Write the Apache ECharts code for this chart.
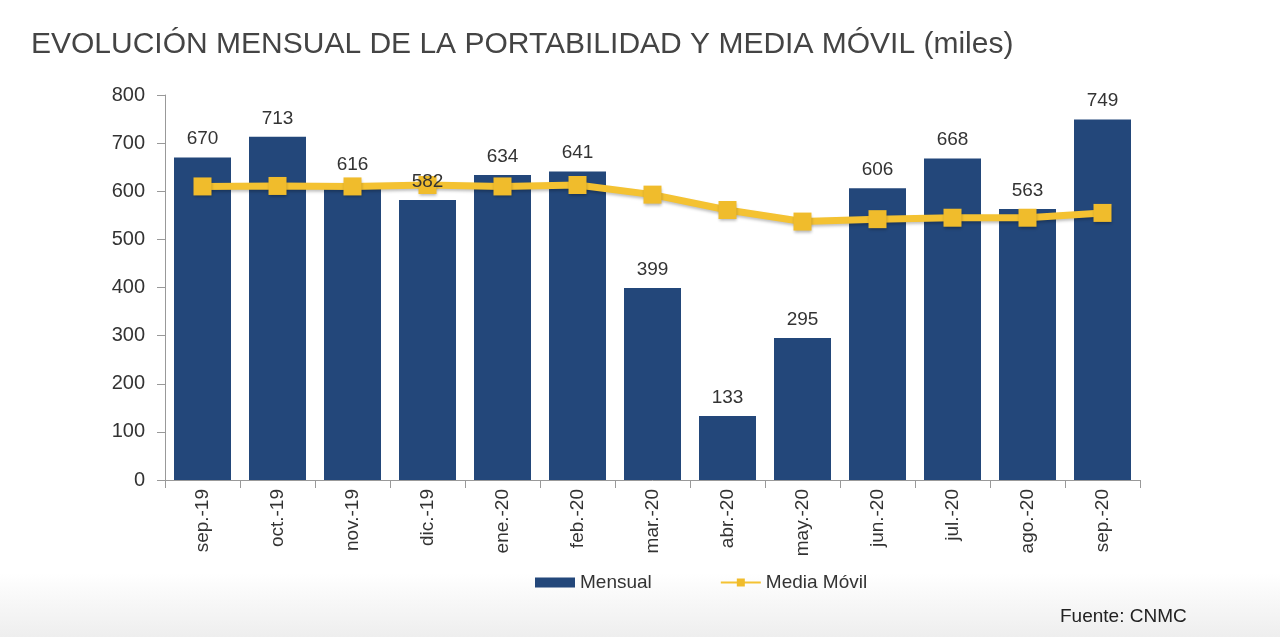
<!DOCTYPE html>
<html><head><meta charset="utf-8">
<script src="https://cdn.jsdelivr.net/npm/echarts@6/dist/echarts.min.js"></script>
<style>html,body{margin:0;padding:0;background:#fff}#c{width:1280px;height:637px;background:linear-gradient(#fff 90%,#eeeeee)}</style>
</head><body><div id="c"></div>
<script>
const categories = ['sep.-19','oct.-19','nov.-19','dic.-19','ene.-20','feb.-20','mar.-20','abr.-20','may.-20','jun.-20','jul.-20','ago.-20','sep.-20'];
const mensual = [670,713,616,582,634,641,399,133,295,606,668,563,749];
const mediaMovil = [610,611,610,613,610,613,593,561,537,542,545,545,555];
const yTicks = [0,100,200,300,400,500,600,700,800];

const chart = echarts.init(document.getElementById('c'));
const font = 'Liberation Sans, Arial, sans-serif';
chart.setOption({
  animation:false,
  title:[{text:'EVOLUCIÓN MENSUAL DE LA PORTABILIDAD Y MEDIA MÓVIL (miles)',left:26,top:25,textStyle:{fontFamily:font,fontSize:30,fontWeight:'normal',color:'#444'}},
         {text:'Fuente: CNMC',left:1055,top:602,textStyle:{fontFamily:font,fontSize:19,fontWeight:'normal',color:'#222'}}],
  legend:{bottom:40,left:530,itemGap:68,itemWidth:40,itemHeight:10,textStyle:{fontFamily:font,fontSize:19,color:'#333'},
    data:[{name:'Mensual',icon:'rect'},{name:'Media Móvil'}]},
  grid:{left:165,right:140,top:95,bottom:157},
  xAxis:{type:'category',data:categories,axisLine:{lineStyle:{color:'#999'}},axisTick:{show:true,length:8,lineStyle:{color:'#999'}},
    axisLabel:{rotate:90,fontFamily:font,fontSize:19,color:'#333',margin:9}},
  yAxis:{type:'value',min:0,max:800,interval:100,axisLine:{show:true,lineStyle:{color:'#999'}},axisTick:{show:true,inside:false,length:8,lineStyle:{color:'#999'}},
    splitLine:{show:false},axisLabel:{fontFamily:font,fontSize:20,color:'#333',margin:20,formatter:v=>yTicks.includes(v)?String(v):''}},
  series:[
    {name:'Mensual',type:'bar',data:mensual,barCategoryGap:'24%',barGap:'-100%',itemStyle:{color:'#23477A'},z:2},
    {name:'Media Móvil',type:'line',data:mediaMovil,symbol:'rect',symbolSize:18,
     lineStyle:{color:'#F4C232',width:7,shadowColor:'rgba(0,0,0,0.25)',shadowOffsetY:2,shadowBlur:3},
     itemStyle:{color:'#F0BC2C',shadowColor:'rgba(0,0,0,0.3)',shadowOffsetY:2,shadowBlur:3},z:5},
    {name:'labels',type:'bar',data:mensual,barCategoryGap:'24%',barGap:'-100%',itemStyle:{color:'rgba(0,0,0,0)'},z:10,silent:true,
     label:{show:true,position:'top',distance:9,fontFamily:font,fontSize:19,color:'#333'}}
  ]
});
</script></body></html>
